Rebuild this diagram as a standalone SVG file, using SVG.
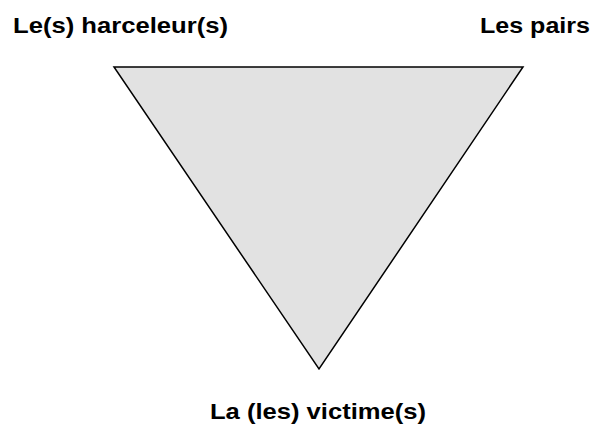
<svg xmlns="http://www.w3.org/2000/svg" width="594" height="425" viewBox="0 0 594 425">
<style>
.lbl{font-family:"Liberation Sans",Arial,sans-serif;font-weight:bold;font-size:22px;fill:#000}
.tri{fill:#e2e2e2;stroke:#000;stroke-width:1.5;stroke-linejoin:miter}
</style>
<rect width="594" height="425" fill="#fff"/>
<g id="triangle"><polygon class="tri" points="114,67 523,67 319,369"/></g>
<g id="harceleurs"><text class="lbl" x="13" y="32.5" textLength="215" lengthAdjust="spacingAndGlyphs">Le(s) harceleur(s)</text></g>
<g id="pairs"><text class="lbl" x="480" y="32.5" textLength="110" lengthAdjust="spacingAndGlyphs">Les pairs</text></g>
<g id="victimes"><text class="lbl" x="210" y="418.5" textLength="216" lengthAdjust="spacingAndGlyphs">La (les) victime(s)</text></g>
<g id="connectors"></g>
</svg>
